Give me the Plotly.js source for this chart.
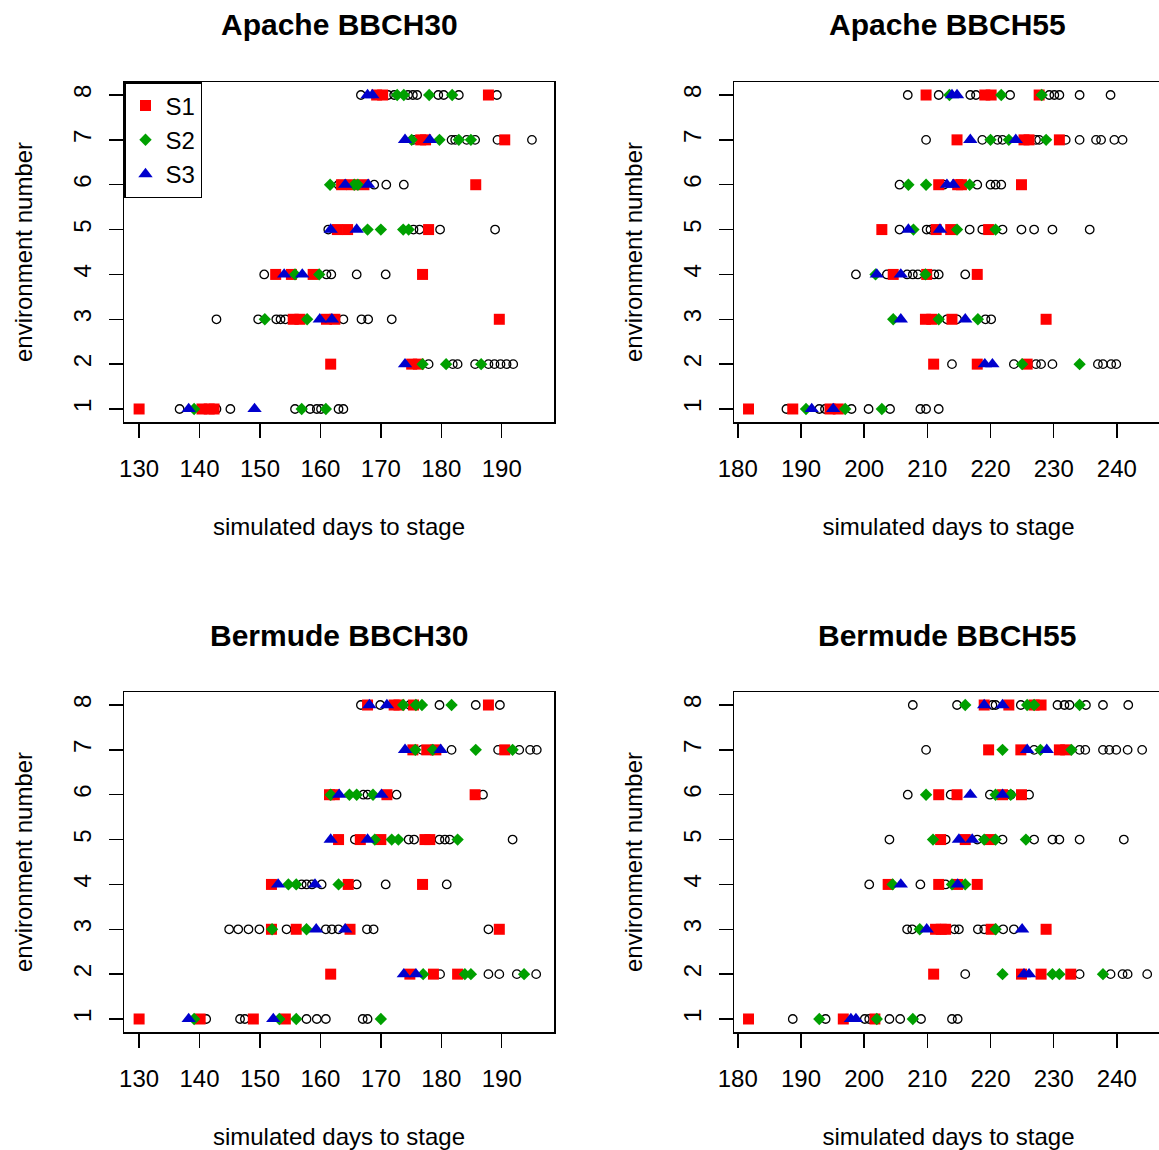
<!DOCTYPE html>
<html>
<head>
<meta charset="utf-8">
<script src="https://cdn.plot.ly/plotly-3.0.1.min.js"></script>
<style>
html, body { margin: 0; padding: 0; overflow: hidden; background: #ffffff; }
#chart { width: 1170px; height: 1150px; }
</style>
</head>
<body>
<div id="chart"></div>
<script>
// ---------------- DATA ----------------
const environments = [1, 2, 3, 4, 5, 6, 7, 8];
const xTicksLeft = [130, 140, 150, 160, 170, 180, 190];
const xTicksRight = [180, 190, 200, 210, 220, 230, 240];
const panelTitles = ["Apache BBCH30", "Apache BBCH55", "Bermude BBCH30", "Bermude BBCH55"];
const seriesNames = ["S1", "S2", "S3"];

// Each array: one inner list per environment (1..8), values = simulated days to stage

// Apache BBCH30
const apache30_other = [
  [136.7, 142.8, 145.1, 155.8, 158.3, 159.4, 160.1, 163.0, 163.8],
  [177.9, 181.9, 182.7, 185.6, 187.8, 188.8, 189.8, 190.8, 191.9],
  [142.8, 149.7, 152.7, 153.4, 154.2, 163.8, 166.8, 167.9, 171.8],
  [150.7, 161.0, 161.8, 166.0, 170.8],
  [161.3, 175.4, 176.4, 179.8, 188.9],
  [163.0, 168.9, 170.9, 173.8],
  [175.4, 181.7, 182.3, 184.2, 185.6, 189.3, 195.0],
  [166.7, 171.2, 172.2, 174.5, 175.3, 176.0, 179.5, 180.4, 182.9, 189.2]
];
const apache30_S1 = [
  [130.0, 140.4, 141.6, 142.4],
  [161.7, 175.1, 176.2],
  [155.5, 156.6, 161.0, 162.4, 189.6],
  [152.6, 155.2, 158.8, 176.9],
  [162.8, 164.5, 177.9],
  [163.5, 165.2, 167.2, 185.7],
  [176.6, 177.4, 190.5],
  [169.3, 170.3, 187.8]
];
const apache30_S2 = [
  [139.1, 156.9, 160.9],
  [176.9, 180.8, 186.6],
  [150.8, 157.8],
  [155.8, 159.8],
  [167.8, 170.0, 173.7, 174.6],
  [161.6, 165.6, 166.2],
  [175.1, 179.7, 182.9, 184.9],
  [172.7, 173.8, 178.0, 181.8]
];
const apache30_S3 = [
  [138.2, 149.1],
  [174.0],
  [159.9, 161.9],
  [154.0, 157.0],
  [161.7, 166.0],
  [164.1, 167.9],
  [174.0, 178.1],
  [167.8, 168.6]
];

// Apache BBCH55
const apache55_other = [
  [187.7, 192.9, 193.8, 198.0, 200.7, 204.1, 208.9, 209.8, 211.8],
  [213.9, 223.7, 227.2, 228.0, 229.8, 237.0, 237.8, 239.1, 239.9],
  [213.1, 214.7, 219.2, 220.1],
  [198.7, 203.6, 206.8, 207.7, 208.5, 211.1, 211.8, 216.0],
  [205.6, 209.9, 210.5, 216.7, 218.7, 221.9, 224.9, 226.9, 229.8, 235.7],
  [205.6, 212.6, 217.9, 220.0, 220.8, 221.7],
  [209.8, 218.7, 221.1, 221.9, 227.2, 227.7, 231.9, 234.1, 236.7, 237.5, 239.6, 240.9],
  [206.9, 211.8, 216.8, 217.7, 223.1, 229.3, 230.1, 230.9, 234.1, 239.0]
];
const apache55_S1 = [
  [181.7, 188.7, 194.6, 195.9],
  [211.0, 217.9, 225.8],
  [209.7, 210.7, 213.9, 228.8],
  [204.6, 209.9, 217.9],
  [202.8, 211.4, 213.7, 219.7],
  [211.8, 214.8, 215.4, 224.9],
  [214.7, 225.3, 226.1, 230.9],
  [209.8, 219.1, 220.1, 227.7]
];
const apache55_S2 = [
  [190.8, 197.0, 202.8],
  [225.0, 234.1],
  [204.6, 211.8, 218.0],
  [201.8, 209.7],
  [207.8, 214.7, 220.8],
  [207.0, 209.8, 216.7],
  [220.0, 222.9, 228.8],
  [213.5, 221.7, 228.1]
];
const apache55_S3 = [
  [191.7, 195.1],
  [219.1, 220.3],
  [205.8, 216.0],
  [202.0, 205.8],
  [207.0, 212.0],
  [213.1, 214.1],
  [216.8, 224.0],
  [213.9, 214.7]
];

// Bermude BBCH30
const bermude30_other = [
  [141.1, 146.7, 147.5, 157.7, 159.4, 160.9, 167.0, 167.8],
  [179.8, 187.8, 189.6, 192.5, 195.7],
  [144.9, 146.4, 148.1, 149.9, 154.4, 160.9, 161.9, 163.0, 167.7, 168.8, 187.8],
  [156.9, 157.7, 158.6, 160.2, 166.0, 170.8, 180.9],
  [165.7, 174.6, 175.5, 179.7, 180.6, 181.4, 191.8],
  [167.1, 167.8, 172.6, 186.9],
  [176.8, 181.7, 189.4, 192.9, 194.7, 195.8],
  [166.7, 169.9, 174.8, 179.7, 185.7, 189.7]
];
const bermude30_S1 = [
  [130.0, 140.1, 148.9, 154.2],
  [161.7, 174.8, 178.7, 182.7],
  [151.9, 156.0, 164.9, 189.6],
  [151.9, 164.6, 176.9],
  [163.0, 166.6, 170.0, 177.3, 178.1],
  [161.5, 162.3, 171.0, 185.6],
  [175.3, 177.6, 179.1, 190.5],
  [167.8, 172.2, 173.0, 175.4, 187.8]
];
const bermude30_S2 = [
  [139.1, 153.2, 156.0, 170.0],
  [177.0, 183.9, 184.9, 193.7],
  [152.0, 157.7],
  [154.7, 156.0, 163.0],
  [169.0, 171.8, 172.9, 182.7],
  [161.7, 164.8, 166.0, 168.7],
  [175.7, 178.6, 185.7, 191.8],
  [173.7, 175.8, 176.8, 181.7]
];
const bermude30_S3 = [
  [138.2, 152.2],
  [173.8, 175.8],
  [159.3, 164.1],
  [153.0, 159.1],
  [161.7, 167.8],
  [163.1, 170.1],
  [174.0, 179.9],
  [168.1, 171.0]
];

// Bermude BBCH55
const bermude55_other = [
  [188.7, 193.9, 200.1, 200.8, 204.0, 205.7, 209.0, 213.9, 214.8],
  [216.0, 234.1, 239.0, 240.9, 241.7, 244.8],
  [206.8, 207.6, 214.3, 215.0, 218.0, 219.0, 222.0, 223.7],
  [200.8, 208.9, 212.9],
  [204.0, 212.9, 217.9, 221.9, 226.9, 229.8, 230.9, 234.1, 241.1],
  [206.9, 213.7, 219.9, 223.2, 226.1],
  [209.8, 226.9, 234.1, 235.0, 237.8, 238.8, 239.9, 241.7, 244.0],
  [207.7, 214.7, 220.3, 220.8, 224.8, 230.6, 231.7, 232.5, 235.1, 237.8, 241.8]
];
const bermude55_S1 = [
  [181.7, 196.7, 201.7],
  [211.0, 224.9, 228.0, 232.7],
  [211.3, 212.2, 212.9, 220.1, 228.8],
  [203.8, 211.8, 214.8, 217.9],
  [212.1, 216.0, 220.0],
  [211.8, 214.7, 221.9, 224.9],
  [219.7, 224.8, 230.9, 231.9],
  [219.0, 222.9, 226.9, 228.0]
];
const bermude55_S2 = [
  [192.9, 202.0, 207.7],
  [221.9, 229.8, 230.9, 237.8],
  [208.8, 220.8],
  [204.5, 213.9, 216.0],
  [210.9, 219.0, 220.8, 225.6],
  [209.8, 220.8, 223.2],
  [221.9, 227.9, 232.8],
  [216.0, 225.8, 226.9, 234.1]
];
const bermude55_S3 = [
  [197.9, 198.7],
  [225.3, 226.1],
  [209.9, 225.0],
  [205.8, 214.8],
  [215.0, 217.1],
  [216.8, 221.9],
  [225.8, 228.9],
  [219.0, 221.9]
];

// ---------------- BUILD ----------------
const W = 1170, H = 1150;
function flatten(rows) {
  const x = [], y = [];
  rows.forEach((r, i) => r.forEach(d => { x.push(d); y.push(environments[i]); }));
  return { x, y };
}
const panels = [
  { other: apache30_other, s: [apache30_S1, apache30_S2, apache30_S3], xa: 'x', ya: 'y' },
  { other: apache55_other, s: [apache55_S1, apache55_S2, apache55_S3], xa: 'x2', ya: 'y2' },
  { other: bermude30_other, s: [bermude30_S1, bermude30_S2, bermude30_S3], xa: 'x3', ya: 'y3' },
  { other: bermude55_other, s: [bermude55_S1, bermude55_S2, bermude55_S3], xa: 'x4', ya: 'y4' }
];
const seriesStyle = [
  { symbol: 'square', color: '#ff0000', size: 11 },
  { symbol: 'diamond', color: '#00a000', size: 9.5 },
  { symbol: 'triangle-up', color: '#0000cd', size: 12.5 }
];
const traces = [];
panels.forEach((p, pi) => {
  const o = flatten(p.other);
  traces.push({
    type: 'scatter', mode: 'markers', x: o.x, y: o.y, xaxis: p.xa, yaxis: p.ya,
    showlegend: false, hoverinfo: 'x+y',
    marker: { symbol: 'circle-open', size: 8.5, color: '#000000', line: { width: 1.3, color: '#000000' } }
  });
  p.s.forEach((rows, si) => {
    const f = flatten(rows);
    const st = seriesStyle[si];
    traces.push({
      type: 'scatter', mode: 'markers', x: f.x, y: f.y, xaxis: p.xa, yaxis: p.ya,
      name: seriesNames[si], legendgroup: seriesNames[si], showlegend: pi === 0,
      marker: { symbol: st.symbol, size: st.size, color: st.color, line: { width: 0 } }
    });
  });
});

const fontFam = 'Liberation Sans, Arial, sans-serif';
function xAxis(l, r, anchor, range, ticks) {
  return {
    domain: [l / W, r / W], anchor: anchor, range: range, tickvals: ticks,
    showline: true, mirror: true, linecolor: '#000', linewidth: 1.5,
    ticks: 'outside', ticklen: 14, tickwidth: 1.5, tickcolor: '#000',
    showgrid: false, zeroline: false, fixedrange: true,
    tickfont: { size: 24, color: '#000', family: fontFam },
    ticklabelstandoff: 11,
    title: { text: 'simulated days to stage', font: { size: 24, color: '#000', family: fontFam }, standoff: 37 }
  };
}
function yAxis(top, bottom, anchor) {
  return {
    domain: [1 - bottom / H, 1 - top / H], anchor: anchor, range: [0.71, 8.29], tickvals: environments,
    tickangle: -90,
    showline: true, mirror: true, linecolor: '#000', linewidth: 1.5,
    ticks: 'outside', ticklen: 14, tickwidth: 1.5, tickcolor: '#000',
    showgrid: false, zeroline: false, fixedrange: true,
    tickfont: { size: 24, color: '#000', family: fontFam },
    ticklabelstandoff: 8,
    title: { text: 'environment number', font: { size: 24, color: '#000', family: fontFam }, standoff: 29 }
  };
}
const leftRange = [127.5, 198.65];
const rightRange = [179.4, 247.3];

const titlePos = [[339, 25], [947, 25], [339, 635], [947, 635]];
const annotations = panelTitles.map((t, i) => ({
  text: '<b>' + t + '</b>', xref: 'paper', yref: 'paper',
  x: titlePos[i][0] / W, y: 1 - titlePos[i][1] / H, xanchor: 'center', yanchor: 'middle',
  showarrow: false, font: { size: 30, color: '#000', family: fontFam }
}));

const layout = {
  width: W, height: H,
  margin: { l: 0, r: 0, t: 0, b: 0 },
  paper_bgcolor: '#ffffff', plot_bgcolor: '#ffffff',
  font: { family: fontFam, color: '#000' },
  showlegend: true,
  legend: {
    x: 124 / W, y: 1 - 82 / H, xanchor: 'left', yanchor: 'top',
    bgcolor: '#ffffff', bordercolor: '#000', borderwidth: 1.5,
    font: { size: 24, color: '#000', family: fontFam }, tracegroupgap: 0
  },
  xaxis: xAxis(124, 554, 'y', leftRange, xTicksLeft),
  yaxis: yAxis(82, 422, 'x'),
  xaxis2: xAxis(734, 1163, 'y2', rightRange, xTicksRight),
  yaxis2: yAxis(82, 422, 'x2'),
  xaxis3: xAxis(124, 554, 'y3', leftRange, xTicksLeft),
  yaxis3: yAxis(692, 1032, 'x3'),
  xaxis4: xAxis(734, 1163, 'y4', rightRange, xTicksRight),
  yaxis4: yAxis(692, 1032, 'x4'),
  annotations: annotations
};

Plotly.newPlot('chart', traces, layout, { displayModeBar: false, staticPlot: true });
</script>
</body>
</html>
